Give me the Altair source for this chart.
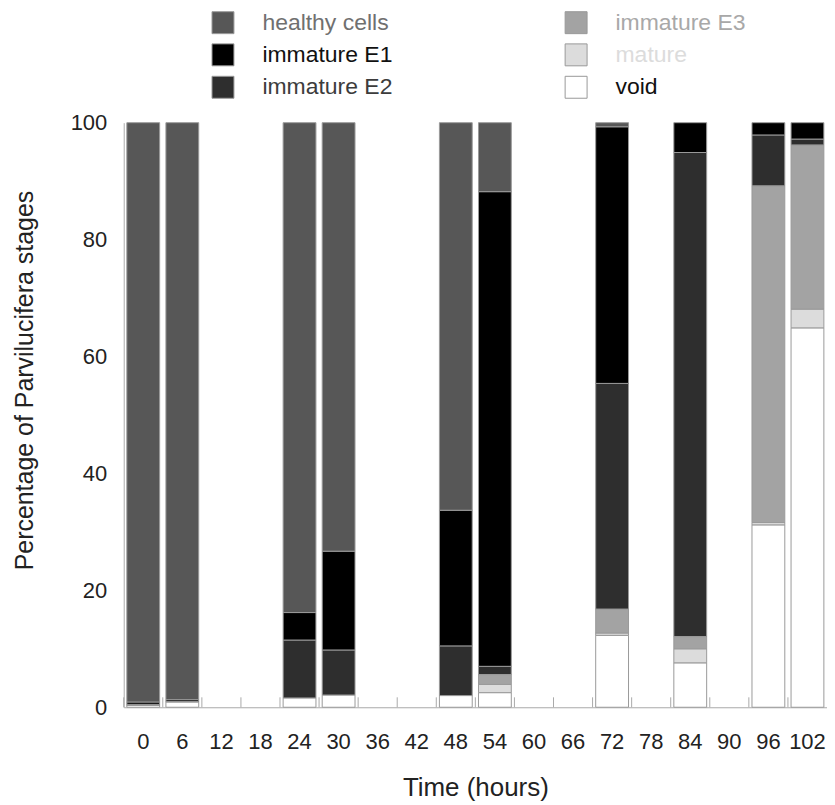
import altair as alt
import pandas as pd

# Category axis (hours)
all_times = ["0", "6", "12", "18", "24", "30", "36", "42", "48", "54",
             "60", "66", "72", "78", "84", "90", "96", "102"]
# Sampled times (others have no bar)
times = ["0", "6", "24", "30", "48", "54", "72", "84", "96", "102"]

# Percentages per stage
void        = [0.3, 0.9, 1.6, 2.1, 2.0, 2.5, 12.3, 7.6, 31.2, 64.9]
mature      = [0.0, 0.0, 0.0, 0.0, 0.0, 1.4, 0.4, 2.4, 0.4, 3.2]
immature_e3 = [0.0, 0.0, 0.0, 0.0, 0.0, 1.7, 4.1, 2.1, 57.6, 28.1]
immature_e2 = [0.2, 0.1, 9.9, 7.7, 8.5, 1.4, 38.6, 82.8, 8.7, 1.0]
immature_e1 = [0.4, 0.3, 4.7, 16.9, 23.2, 81.2, 43.9, 5.1, 2.1, 2.8]
healthy     = [99.1, 98.7, 83.8, 73.3, 66.3, 11.8, 0.7, 0.0, 0.0, 0.0]

# stack order bottom -> top
stages = ["void", "mature", "immature E3", "immature E2", "immature E1", "healthy cells"]
series = [void, mature, immature_e3, immature_e2, immature_e1, healthy]

# legend order (column-major in a 2-column legend)
legend_order = ["healthy cells", "immature E1", "immature E2", "immature E3", "mature", "void"]
legend_colors = ["#575757", "#000000", "#2e2e2e", "#a3a3a3", "#dcdcdc", "#ffffff"]

rows = []
for si, (stage, vals) in enumerate(zip(stages, series)):
    for t, v in zip(times, vals):
        if v > 0:
            rows.append({"time": t, "stage": stage, "value": v, "rank": si})
df = pd.DataFrame(rows)
ticks_df = pd.DataFrame({"time": all_times})

FONT = "Liberation Sans"

x_scale = alt.Scale(domain=all_times, paddingInner=0, paddingOuter=0)

label_color_expr = (
    "datum.label == 'healthy cells' ? '#707070' : "
    "datum.label == 'immature E2' ? '#3c3c3c' : "
    "datum.label == 'immature E3' ? '#a8a8a8' : "
    "datum.label == 'mature' ? '#dcdcdc' : '#111111'"
)

bars = alt.Chart(df).mark_bar(
    width=alt.RelativeBandSize(0.84), stroke="#9a9a9a", strokeWidth=1
).encode(
    x=alt.X("time:O", scale=x_scale, sort=all_times,
            axis=alt.Axis(title="Time (hours)", labelAngle=0, ticks=False,
                          labelFontSize=22, labelPadding=24, labelColor="#222222",
                          titleFontSize=26, titleFontWeight="normal", titlePadding=22,
                          titleColor="#222222", domainColor="#aaaaaa")),
    y=alt.Y("value:Q", stack="zero", scale=alt.Scale(domain=[0, 100], nice=False),
            axis=alt.Axis(title="Percentage of Parvilucifera stages", values=[0, 20, 40, 60, 80, 100],
                          grid=False, ticks=False, labelFontSize=22, labelPadding=17,
                          labelColor="#222222", titleFontSize=25, titleFontWeight="normal",
                          titlePadding=33, titleColor="#222222", domainColor="#aaaaaa",
                          titleY=258)),
    color=alt.Color("stage:N", scale=alt.Scale(domain=legend_order, range=legend_colors),
                    legend=alt.Legend(title=None, orient="none", legendX=88, legendY=-112,
                                      columns=2, columnPadding=170, rowPadding=5.5,
                                      symbolType="square", symbolSize=484,
                                      symbolStrokeColor="#999999", symbolStrokeWidth=1,
                                      symbolOpacity=1, labelFontSize=23, labelOffset=28,
                                      labelColor={"expr": label_color_expr}, labelLimit=300)),
    order=alt.Order("rank:Q", sort="ascending"),
)

tick_rules = alt.Chart(ticks_df).mark_rule(color="#aaaaaa", strokeWidth=1).encode(
    x=alt.X("time:O", scale=x_scale, sort=all_times, bandPosition=0),
    y=alt.datum(0),
    y2=alt.datum(1.7),
)

chart = alt.layer(bars, tick_rules).properties(
    width=705, height=586,
    padding={"left": 4, "top": 2, "right": 0, "bottom": 0},
).configure(font=FONT).configure_view(stroke=None)

chart.save("out.html", embed_options={"renderer": "svg", "actions": False})
